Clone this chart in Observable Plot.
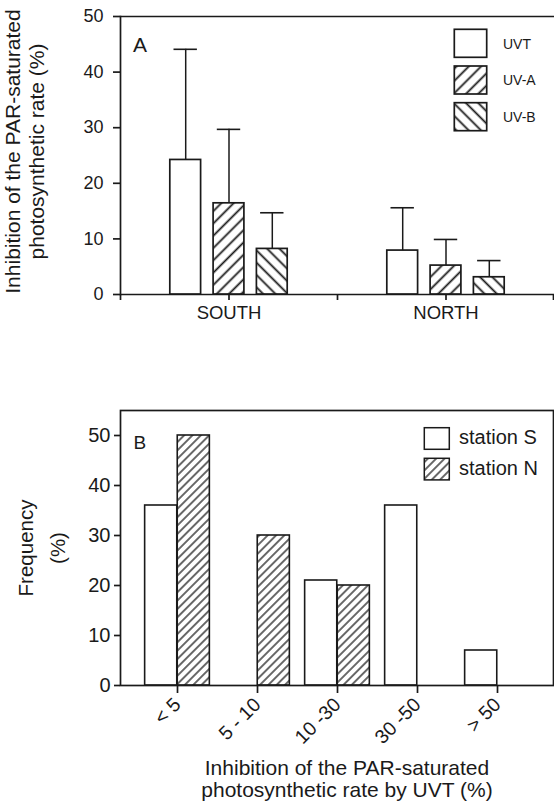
<!DOCTYPE html>
<html><head><meta charset="utf-8">
<script src="https://cdn.jsdelivr.net/npm/d3@7"></script>
<script src="https://cdn.jsdelivr.net/npm/@observablehq/plot@0.6"></script>
<style>
body{margin:0;background:#fff;}
#wrap{position:relative;width:554px;height:801px;overflow:hidden;font-family:"Liberation Sans",Arial,sans-serif;color:#1a1a1a;}
#wrap svg{position:absolute;left:0;}
</style></head><body><div id="wrap"></div>
<script>
// ---------- Panel A data ----------
const stationsA = ["SOUTH", "NORTH"];
const seriesA = ["UVT", "UV-A", "UV-B"];
const meanUVT = [24.2, 7.9];
const meanUVA = [16.4, 5.2];
const meanUVB = [8.2, 3.1];
const sdUVT = [19.9, 7.7];
const sdUVA = [13.3, 4.7];
const sdUVB = [6.5, 3.0];
const yTicksA = [0, 10, 20, 30, 40, 50];
const yTitleA = "Inhibition of the PAR-saturated\nphotosynthetic rate (%)";

// ---------- Panel B data ----------
const classesB = ["< 5", "5 - 10", "10 -30", "30 -50", "> 50"];
const seriesB = ["station S", "station N"];
const freqS = [36, 0, 21, 36, 7];
const freqN = [50, 30, 20, 0, 0];
const yTicksB = [0, 10, 20, 30, 40, 50];
const yTitleB = "Frequency\n(%)";
const xTitleB = "Inhibition of the PAR-saturated\nphotosynthetic rate by UVT (%)";

const INK = "#1a1a1a";
const FONT = "Liberation Sans, Arial, sans-serif";
const wrap = d3.select("#wrap");

// hatch patterns: rotate(45) gives "/", rotate(-45) gives "\"
const defs = wrap.append("svg").attr("width", 0).attr("height", 0).style("top", "0px").append("defs");
function hatch(id, size, angle, sw) {
  const p = defs.append("pattern").attr("id", id).attr("patternUnits", "userSpaceOnUse")
    .attr("width", size).attr("height", size).attr("patternTransform", `rotate(${angle})`);
  p.append("rect").attr("width", size).attr("height", size).attr("fill", "white");
  p.append("line").attr("x1", size / 2).attr("x2", size / 2).attr("y1", -1).attr("y2", size + 1)
    .attr("stroke", INK).attr("stroke-width", sw);
}
hatch("hatchUVA", 8.7, 45, 1.8);
hatch("hatchUVB", 8.7, -45, 1.8);
hatch("hatchN", 5.9, 45, 1.3);

// ---------- Panel A ----------
const W = 554;
const mLA = 120, mRA = 0;
const bwA = (W - mLA - mRA) / stationsA.length;
const pitchA = 43.3, barWA = 30.8, capWA = 23.4;
const fillsA = ["white", "url(#hatchUVA)", "url(#hatchUVB)"];
const meansA = [meanUVT, meanUVA, meanUVB];
const sdsA = [sdUVT, sdUVA, sdUVB];
const rowsA = stationsA.flatMap((s, i) => seriesA.map((k, j) => ({station: s, series: k, mean: meansA[j][i], sd: sdsA[j][i]})));
const insetsA = (off, w) => ({insetLeft: bwA / 2 + off - w / 2, insetRight: bwA / 2 - off - w / 2});

const marksA = [
  Plot.ruleY([0, 50], {stroke: INK, strokeWidth: 1.7}),
  Plot.frame({anchor: "left", stroke: INK, strokeWidth: 1.7}),
];
seriesA.forEach((k, j) => {
  const off = (j - 1) * pitchA;
  const rows = rowsA.filter(d => d.series === k);
  marksA.push(
    Plot.barY(rows, {x: "station", y: "mean", fill: fillsA[j], stroke: INK, strokeWidth: 1.7, ...insetsA(off, barWA)}),
    Plot.ruleX(rows, {x: "station", y1: "mean", y2: d => d.mean + d.sd, dx: off, stroke: INK, strokeWidth: 1.5}),
    Plot.tickY(rows, {x: "station", y: d => d.mean + d.sd, stroke: INK, strokeWidth: 1.6, ...insetsA(off, capWA)})
  );
});
marksA.push(
  Plot.axisY({ticks: yTicksA, tickSize: 7, tickPadding: 10, fontSize: 18, stroke: INK, fill: INK, strokeWidth: 1.7, label: null}),
  Plot.axisX({tickSize: 6, tickPadding: 5, fontSize: 18.5, stroke: INK, fill: INK, strokeWidth: 1.7, label: null}),
  Plot.ruleX(stationsA, {x: d => d, dx: -bwA / 2, y1: 0, y2: 0, insetBottom: -6, stroke: INK, strokeWidth: 1.7}),
  Plot.ruleX(stationsA.slice(-1), {x: d => d, dx: bwA / 2 - 1, y1: 0, y2: 0, insetBottom: -6, stroke: INK, strokeWidth: 1.7}),
  Plot.text(["A"], {text: d => d, frameAnchor: "top-left", dx: 12.5, dy: 20.7, fontSize: 21, textAnchor: "start", lineAnchor: "top", fill: INK}),
  Plot.text([yTitleA], {text: d => d, frameAnchor: "left", rotate: -90, dx: -96.4, dy: -4, fontSize: 21, lineHeight: 1.14, textAnchor: "middle", lineAnchor: "middle", fill: INK})
);

const plotA = Plot.plot({
  width: W, height: 390,
  marginLeft: mLA, marginRight: mRA, marginTop: 16, marginBottom: 96,
  x: {type: "band", domain: stationsA, padding: 0, axis: null},
  y: {domain: [0, 50], axis: null},
  style: {fontFamily: FONT, color: INK, background: "transparent", position: "absolute", top: "0px", left: "0px", overflow: "visible"},
  marks: marksA
});
wrap.node().appendChild(plotA);

// ---------- Panel B ----------
const mLB = 120, mRB = 1, padOutB = 0.19;
const bwB = (W - mLB - mRB) / (classesB.length + 2 * padOutB);
const barWB = 32.6;
const rowsB = classesB.flatMap((c, i) => [
  {cls: c, series: seriesB[0], freq: freqS[i]},
  {cls: c, series: seriesB[1], freq: freqN[i]}
]);

const plotB = Plot.plot({
  width: W, height: 411,
  marginLeft: mLB, marginRight: mRB, marginTop: 20, marginBottom: 116,
  x: {type: "band", domain: classesB, paddingInner: 0, paddingOuter: padOutB, axis: null},
  y: {domain: [0, 55], axis: null},
  style: {fontFamily: FONT, color: INK, background: "transparent", position: "absolute", top: "390px", left: "0px", overflow: "visible"},
  marks: [
    Plot.barY(rowsB.filter(d => d.series === seriesB[0] && d.freq > 0), {x: "cls", y: "freq", fill: "white", stroke: INK, strokeWidth: 1.6, insetLeft: bwB / 2 - barWB, insetRight: bwB / 2}),
    Plot.barY(rowsB.filter(d => d.series === seriesB[1] && d.freq > 0), {x: "cls", y: "freq", fill: "url(#hatchN)", stroke: INK, strokeWidth: 1.6, insetLeft: bwB / 2, insetRight: bwB / 2 - barWB}),
    Plot.frame({stroke: INK, strokeWidth: 1.7}),
    Plot.axisY({ticks: yTicksB, tickSize: 6, tickPadding: 4, fontSize: 20, stroke: INK, fill: INK, strokeWidth: 1.7, label: null}),
    Plot.axisX({tickSize: 8, tickPadding: 8, tickRotate: -45, fontSize: 19.5, stroke: INK, fill: INK, strokeWidth: 1.7, label: null}),
    Plot.text(["B"], {text: d => d, frameAnchor: "top-left", dx: 13, dy: 25, fontSize: 19, textAnchor: "start", lineAnchor: "top", fill: INK}),
    Plot.text([yTitleB], {text: d => d, frameAnchor: "left", rotate: -90, dx: -81.7, dy: 0, fontSize: 20.5, lineHeight: 1.55, textAnchor: "middle", lineAnchor: "middle", fill: INK}),
    Plot.text([xTitleB], {text: d => d, frameAnchor: "bottom", dx: 10, dy: 93, fontSize: 21, lineHeight: 1.06, textAnchor: "middle", lineAnchor: "middle", fill: INK})
  ]
});
wrap.node().appendChild(plotB);

// ---------- Legends ----------
const legA = wrap.append("svg").attr("width", W).attr("height", 390).style("top", "0px");
seriesA.forEach((k, j) => {
  const y0 = 29.3 + j * 36.7;
  legA.append("rect").attr("x", 454.3).attr("y", y0).attr("width", 32.4).attr("height", 28)
    .attr("fill", fillsA[j]).attr("stroke", INK).attr("stroke-width", 1.7);
  legA.append("text").attr("x", 503).attr("y", y0 + 14.4).attr("dy", "0.35em")
    .attr("font-family", FONT).attr("font-size", 14).attr("fill", INK).text(k);
});
const legB = wrap.append("svg").attr("width", W).attr("height", 411).style("top", "390px");
const fillsLegB = ["white", "url(#hatchN)"];
seriesB.forEach((k, j) => {
  const y0 = 37.7 + j * 30.6;
  legB.append("rect").attr("x", 424.3).attr("y", y0).attr("width", 25).attr("height", 21.6)
    .attr("fill", fillsLegB[j]).attr("stroke", INK).attr("stroke-width", 1.5);
  legB.append("text").attr("x", 459).attr("y", y0 + 9.5).attr("dy", "0.35em")
    .attr("font-family", FONT).attr("font-size", 20).attr("fill", INK).text(k);
});
</script></body></html>
